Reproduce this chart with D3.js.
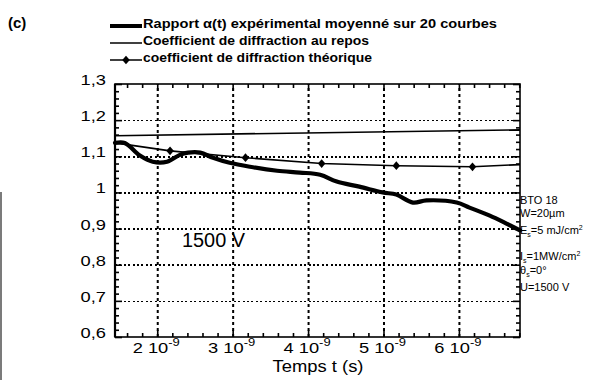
<!DOCTYPE html>
<html>
<head>
<meta charset="utf-8">
<script src="https://cdn.jsdelivr.net/npm/d3@7"></script>
<style>
  html, body { margin: 0; padding: 0; background: #fff; }
  svg { display: block; }
  text { font-family: "Liberation Sans", Arial, Helvetica, sans-serif; fill: #000; }
</style>
</head>
<body>
<svg id="chart" width="591" height="380"></svg>
<script>
// Time in units of 1e-9 s
const expTime  = [1.44, 1.57, 1.77, 1.94, 2.13, 2.30, 2.41, 2.57, 2.74, 2.96, 3.23, 3.59, 3.89, 4.16, 4.38, 4.68, 4.99, 5.17, 5.39, 5.57, 5.97, 6.14, 6.41, 6.63, 6.81];
const expRatio = [1.137, 1.137, 1.102, 1.085, 1.085, 1.104, 1.110, 1.110, 1.096, 1.082, 1.071, 1.060, 1.055, 1.049, 1.030, 1.016, 1.000, 0.994, 0.972, 0.978, 0.972, 0.958, 0.936, 0.914, 0.895];

const reposTime  = [1.44, 6.81];
const reposCoeff = [1.157, 1.173];

const theoTime    = [1.44, 2.17, 3.17, 4.18, 5.17, 6.18, 6.81];
const theoCoeff   = [1.137, 1.115, 1.096, 1.080, 1.074, 1.071, 1.077];
const theoMarkers = [false, true, true, true, true, true, false];

const yTicks = [0.6, 0.7, 0.8, 0.9, 1.0, 1.1, 1.2, 1.3];
const yTickLabels = ["0,6", "0,7", "0,8", "0,9", "1", "1,1", "1,2", "1,3"];
const xTicks = [2, 3, 4, 5, 6];
const xTickLabels = ["2 10", "3 10", "4 10", "5 10", "6 10"];
const xTickExp = "-9";

const legendLabels = [
  "Rapport α(t) expérimental moyenné sur 20 courbes",
  "Coefficient de diffraction au repos",
  "coefficient de diffraction théorique"
];
const noteLines = ["BTO 18", "W=20µm", "=5 mJ/cm", "=1MW/cm", "=0°", "U=1500 V"];

const svg = d3.select("#chart");
const L = 115, R = 520, T = 84, B = 337;
const W = R - L, H = B - T;
const xScale = d3.scaleLinear().domain([1.44, 6.81]).range([L, R]);
const yScale = d3.scaleLinear().domain([0.6, 1.3]).range([B, T]);

// faint scanner edge along the left border
svg.append("line").attr("x1", 1).attr("x2", 1).attr("y1", 192).attr("y2", 380)
  .attr("stroke", "#444").attr("stroke-width", 2).attr("opacity", 0.7);

// dotted grid through d3 axes
const yMinorVals = d3.range(30, 66).map(k => k / 50);      // 0.60 .. 1.30 step 0.02
const xMinorVals = d3.range(8, 35).map(k => k / 5);        // 1.6 .. 6.8 step 0.2

const gridY = svg.append("g").attr("transform", `translate(${L},0)`)
  .call(d3.axisLeft(yScale).tickValues(yTicks.slice(1, -1)).tickSize(-W).tickFormat(""));
const gridX = svg.append("g").attr("transform", `translate(0,${B})`)
  .call(d3.axisBottom(xScale).tickValues(xTicks).tickSize(-H).tickFormat(""));
gridY.select(".domain").remove();
gridX.select(".domain").remove();
gridY.selectAll(".tick line").attr("stroke", "#000").attr("stroke-width", 1.6)
  .attr("stroke-dasharray", "2,2.4").attr("shape-rendering", "crispEdges");
gridX.selectAll(".tick line").attr("stroke", "#000").attr("stroke-width", 2)
  .attr("stroke-dasharray", "3,3");

// inward ticks on all four sides
function tickAxis(axisFn, scale, vals, tr) {
  const g = svg.append("g").attr("transform", tr)
    .call(axisFn(scale).tickValues(vals).tickSizeOuter(0).tickFormat(""));
  g.select(".domain").remove();
  g.selectAll(".tick line").attr("stroke", "#000").attr("stroke-width", 1.6);
  return g;
}
const yMajor = v => Math.abs(v * 10 - Math.round(v * 10)) < 1e-6;
const xMajor = v => Math.abs(v - Math.round(v)) < 1e-6;
tickAxis(d3.axisRight, yScale, yMinorVals, `translate(${L},0)`)
  .selectAll(".tick line").attr("x2", d => yMajor(d) ? 7 : 4);
tickAxis(d3.axisLeft, yScale, yMinorVals, `translate(${R},0)`)
  .selectAll(".tick line").attr("x2", d => yMajor(d) ? -7 : -4);
tickAxis(d3.axisTop, xScale, xMinorVals, `translate(0,${B})`)
  .selectAll(".tick line").attr("y2", d => xMajor(d) ? -7 : -4);
tickAxis(d3.axisBottom, xScale, xMinorVals, `translate(0,${T})`)
  .selectAll(".tick line").attr("y2", d => xMajor(d) ? 7 : 4);

// frame
svg.append("rect").attr("x", L).attr("y", T).attr("width", W).attr("height", H)
  .attr("fill", "none").attr("stroke", "#000").attr("stroke-width", 1.6);
svg.append("line").attr("x1", L).attr("x2", L).attr("y1", T).attr("y2", B)
  .attr("stroke", "#000").attr("stroke-width", 2.2);

// series
const straight = d3.line().x(d => xScale(d[0])).y(d => yScale(d[1]));
const smooth = d3.line().x(d => xScale(d[0])).y(d => yScale(d[1])).curve(d3.curveCatmullRom.alpha(0.5));

svg.append("path").datum(d3.zip(reposTime, reposCoeff))
  .attr("d", straight).attr("fill", "none").attr("stroke", "#000").attr("stroke-width", 1.6);

svg.append("path").datum(d3.zip(theoTime, theoCoeff))
  .attr("d", straight).attr("fill", "none").attr("stroke", "#000").attr("stroke-width", 1.6);
const diamond = d3.symbol().type(d3.symbolDiamond).size(22);
svg.selectAll(".mk").data(d3.zip(theoTime, theoCoeff).filter((d, i) => theoMarkers[i])).join("path")
  .attr("d", diamond).attr("transform", d => `translate(${xScale(d[0])},${yScale(d[1])}) scale(1.5,1)`)
  .attr("fill", "#000");

svg.append("path").datum(d3.zip(expTime, expRatio))
  .attr("d", smooth)
  .attr("fill", "none").attr("stroke", "#000").attr("stroke-width", 4.2)
  .attr("stroke-linejoin", "round").attr("stroke-linecap", "round");

// y tick labels
svg.selectAll(".yl").data(yTicks).join("text")
  .attr("x", 106).attr("y", d => yScale(d) + 1)
  .attr("text-anchor", "end").attr("font-size", 15.5)
  .attr("transform", "translate(106,0) scale(1.18,1) translate(-106,0)")
  .text((d, i) => yTickLabels[i]);

// x tick labels with exponent
xTicks.forEach((v, i) => {
  const cx = xScale(v) - 1;
  const t = svg.append("text").attr("x", cx).attr("y", 353)
    .attr("text-anchor", "middle").attr("font-size", 15.5)
    .attr("transform", `translate(${cx},0) scale(1.18,1) translate(${-cx},0)`);
  t.append("tspan").text(xTickLabels[i]);
  t.append("tspan").attr("dy", -7).attr("font-size", 11).text(xTickExp);
});

// axis title
svg.append("text").attr("x", 318).attr("y", 372).attr("text-anchor", "middle")
  .attr("font-size", 16).attr("transform", "translate(318,0) scale(1.15,1) translate(-318,0)")
  .text("Temps t (s)");

// panel tag
svg.append("text").attr("x", 8).attr("y", 28).attr("font-size", 15).attr("font-weight", "bold")
  .text("(c)");

// legend
const legY = [26, 43, 60];
const legEnd = [497, 369, 372];
const legW = [4, 1.5, 1.5];
legendLabels.forEach((s, i) => {
  svg.append("line").attr("x1", 110).attr("x2", 142).attr("y1", legY[i]).attr("y2", legY[i])
    .attr("stroke", "#000").attr("stroke-width", legW[i]);
  svg.append("text").attr("x", 143).attr("y", legY[i] + 2).attr("font-size", 12.5)
    .attr("font-weight", "bold").attr("textLength", legEnd[i] - 143).attr("lengthAdjust", "spacingAndGlyphs")
    .text(s);
});
svg.append("path").attr("d", diamond).attr("transform", `translate(126,${legY[2]}) scale(1.5,1)`).attr("fill", "#000");

// in-plot voltage label
svg.append("text").attr("x", 182).attr("y", 247).attr("font-size", 20)
  .attr("textLength", 63).attr("lengthAdjust", "spacingAndGlyphs").text("1500 V");

// experimental conditions beside the right axis
const note = svg.append("g").attr("font-size", 11);
note.append("text").attr("x", 520).attr("y", 204).text(noteLines[0]);
note.append("text").attr("x", 520).attr("y", 217).text(noteLines[1]);
function subLine(yPos, head, tail, sup) {
  const t = note.append("text").attr("x", 520).attr("y", yPos);
  t.append("tspan").text(head);
  t.append("tspan").attr("dy", 3).attr("font-size", 7).text("s");
  t.append("tspan").attr("dy", -3).text(tail);
  if (sup) t.append("tspan").attr("dy", -4).attr("font-size", 7).text(sup);
}
subLine(234, "E", noteLines[2], "2");
subLine(260, "I", noteLines[3], "2");
subLine(274, "θ", noteLines[4], null);
note.append("text").attr("x", 520).attr("y", 291).text(noteLines[5]);
</script>
</body>
</html>
